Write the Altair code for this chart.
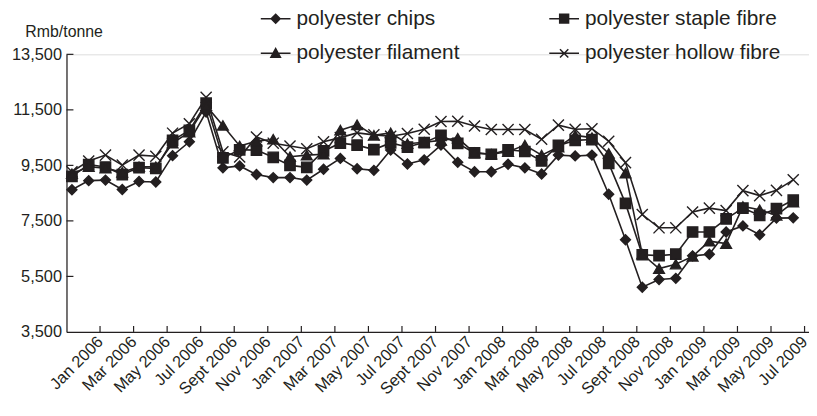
import json
import altair as alt
import pandas as pd

months = [
    "Dec 2005", "Jan 2006", "Feb 2006", "Mar 2006", "Apr 2006", "May 2006", "Jun 2006",
    "Jul 2006", "Aug 2006", "Sept 2006", "Oct 2006", "Nov 2006", "Dec 2006",
    "Jan 2007", "Feb 2007", "Mar 2007", "Apr 2007", "May 2007", "Jun 2007",
    "Jul 2007", "Aug 2007", "Sept 2007", "Oct 2007", "Nov 2007", "Dec 2007",
    "Jan 2008", "Feb 2008", "Mar 2008", "Apr 2008", "May 2008", "Jun 2008",
    "Jul 2008", "Aug 2008", "Sept 2008", "Oct 2008", "Nov 2008", "Dec 2008",
    "Jan 2009", "Feb 2009", "Mar 2009", "Apr 2009", "May 2009", "Jun 2009", "Jul 2009",
]

chips = [8620, 8950, 8970, 8630, 8920, 8900, 9850, 10350, 11420, 9410, 9480, 9170,
         9060, 9060, 8970, 9360, 9750, 9380, 9320, 10050, 9550, 9700, 10230, 9610,
         9270, 9270, 9540, 9410, 9190, 9870, 9840, 9870, 8460, 6820, 5110, 5390,
         5430, 6240, 6300, 7100, 7320, 7000, 7600, 7610]
staple = [9100, 9530, 9440, 9170, 9420, 9390, 10400, 10760, 11740, 9770, 10060, 10050,
          9790, 9500, 9430, 10020, 10300, 10230, 10070, 10310, 10160, 10320, 10580, 10290,
          9950, 9900, 10060, 10000, 9660, 10220, 10400, 10430, 9570, 8130, 6280, 6250,
          6300, 7100, 7100, 7570, 7960, 7700, 7940, 8250]
filament = [9200, 9450, 9400, 9250, 9450, 9450, 10300, 10700, 11650, 10940, 10200, 10370,
            10440, 9810, 9870, 9900, 10770, 10960, 10580, 10670, 10280, 10330, 10400, 10480,
            9950, 9900, 9990, 10230, 9870, 10160, 10580, 10500, 9930, 9220, 6300, 5780,
            5940, 6220, 6770, 6680, 8020, 7900, 7700, 8170]
hollow = [9270, 9660, 9870, 9510, 9870, 9830, 10660, 11000, 11950, 9990, 9800, 10520,
          10300, 10200, 10100, 10350, 10500, 10670, 10600, 10550, 10650, 10800, 11080, 11090,
          10920, 10790, 10790, 10790, 10440, 10950, 10800, 10820, 10370, 9600, 7730, 7250,
          7250, 7820, 7960, 7870, 8590, 8410, 8600, 8980]

series_names = ["polyester chips", "polyester staple fibre",
                "polyester filament", "polyester hollow fibre"]
# legend order (laid out column by column: chips/filament left, staple/hollow right)
legend_order = ["polyester chips", "polyester filament",
                "polyester staple fibre", "polyester hollow fibre"]

axis_labels = ["Jan 2006", "Mar 2006", "May 2006", "Jul 2006", "Sept 2006", "Nov 2006",
               "Jan 2007", "Mar 2007", "May 2007", "Jul 2007", "Sept 2007", "Nov 2007",
               "Jan 2008", "Mar 2008", "May 2008", "Jul 2008", "Sept 2008", "Nov 2008",
               "Jan 2009", "Mar 2009", "May 2009", "Jul 2009"]

y_ticks = [3500, 5500, 7500, 9500, 11500, 13500]

rows = []
for name, vals in zip(series_names, [chips, staple, filament, hollow]):
    for i, v in enumerate(vals):
        rows.append({"series": name, "idx": i, "month": months[i], "value": v})
df = pd.DataFrame(rows)

INK = "#231f20"
FONT = "Liberation Sans"
X0, X1 = -0.325, 43.94
tick_pos = [X0 + 2 * k for k in range(1, 23)]
label_expr = "%s[round((datum.value - %f) / 2)]" % (json.dumps(axis_labels), X0 + 2)

x_enc = alt.X(
    "idx:Q",
    scale=alt.Scale(domain=[X0, X1], nice=False, zero=False),
    axis=alt.Axis(values=tick_pos, labelExpr=label_expr, labelAngle=-45,
                  labelAlign="right", labelBaseline="middle", ticks=False,
                  grid=False, domainColor=INK, domainWidth=1.2, labelFontSize=16.5,
                  labelPadding=7, labelOverlap=False, labelFlush=False,
                  labelColor=INK, labelFont=FONT, title=None),
)
y_enc = alt.Y(
    "value:Q",
    scale=alt.Scale(domain=[3500, 13500], nice=False, zero=False),
    axis=alt.Axis(values=y_ticks, format=",d", ticks=False, grid=False,
                  domainColor=INK, domainWidth=1.2, labelPadding=5,
                  labelFontSize=16.5, labelColor=INK, labelFont=FONT,
                  labelFlush=False, labelOverlap=False,
                  title="Rmb/tonne", titleAngle=0, titleAlign="left",
                  titleBaseline="middle", titleX=-42, titleY=-23,
                  titleFontWeight="normal", titleFontSize=16, titleColor=INK,
                  titleFont=FONT),
)

base = alt.Chart(df)

lines = base.mark_line(color=INK, strokeWidth=1.6).encode(
    x=x_enc, y=y_enc, detail="series:N")

points = base.mark_point(filled=True, fill=INK, stroke=INK, strokeWidth=1.4,
                         opacity=1).encode(
    x=x_enc, y=y_enc,
    shape=alt.Shape("series:N",
                    scale=alt.Scale(domain=series_names,
                                    range=["diamond", "square", "triangle-up",
                                           "M-1,-1L1,1M-1,1L1,-1"]),
                    legend=None),
    size=alt.Size("series:N",
                  scale=alt.Scale(domain=series_names, range=[100, 125, 115, 95]),
                  legend=None),
)

legend_paths = [
    "M-1,0L1,0M0,-0.3L0.3,0L0,0.3L-0.3,0Z",
    "M-1,0L1,0M0,-0.32L0.32,0.26L-0.32,0.26Z",
    "M-1,0L1,0M-0.3,-0.3L0.3,-0.3L0.3,0.3L-0.3,0.3Z",
    "M-1,0L1,0M-0.28,-0.28L0.28,0.28M-0.28,0.28L0.28,-0.28",
]

leg = alt.Legend(orient="none", legendX=195, legendY=-52,
                 columns=2, title=None, symbolSize=900,
                 labelFontSize=21, labelOffset=5,
                 columnPadding=87, rowPadding=9, padding=0,
                 symbolStrokeWidth=1.5, symbolOpacity=1,
                 labelColor=INK, labelFont=FONT, labelLimit=300)

legend_layer = base.transform_filter("false").mark_point(
    filled=False, color=INK, fill=INK, stroke=INK, strokeWidth=1.5,
    opacity=1).encode(
    x=x_enc, y=y_enc,
    shape=alt.Shape("series:N",
                    scale=alt.Scale(domain=legend_order, range=legend_paths),
                    legend=leg),
)

ytick_df = pd.DataFrame({"value": y_ticks[1:]})
ytick_rules = alt.Chart(ytick_df).mark_rule(color=INK, strokeWidth=1.2).encode(
    y=y_enc, x=alt.value(0), x2=alt.value(7))

xtick_df = pd.DataFrame({"idx": tick_pos})
xtick_rules = alt.Chart(xtick_df).mark_rule(color=INK, strokeWidth=1.2).encode(
    x=x_enc, y=alt.value(280), y2=alt.value(274))

chart = alt.layer(lines, points, legend_layer, ytick_rules, xtick_rules).resolve_scale(
    shape="independent", size="independent"
).properties(
    width=749, height=280,
    padding={"left": 59, "top": 45, "right": 0, "bottom": 75},
    autosize=alt.AutoSizeParams(type="none"),
).configure_view(stroke=None).configure(font=FONT, background="white")

chart.save("out.html", embed_options={"renderer": "svg", "actions": False})
